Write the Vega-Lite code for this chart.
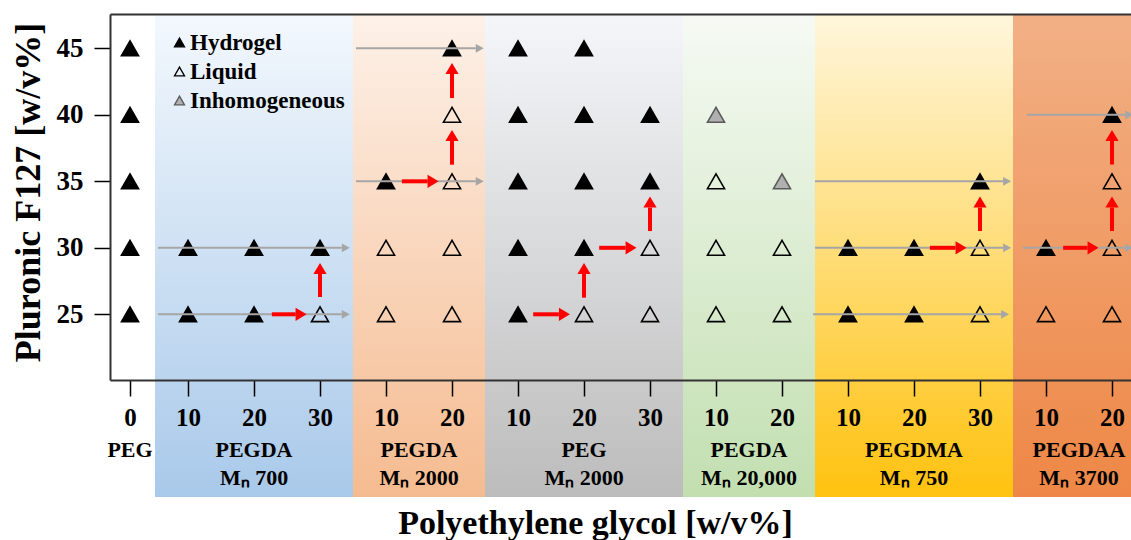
{
  "$schema": "https://vega.github.io/schema/vega-lite/v6.json",
  "width": 1021,
  "height": 366,
  "autosize": {"type": "none"},
  "padding": {"left": 110, "top": 14, "right": 0, "bottom": 160},
  "background": "white",
  "config": {"view": {"stroke": null}, "font": "Liberation Serif"},
  "datasets": {
    "bands": [
      {"band": "PEGDA700", "start": 0.5, "end": 3.5},
      {"band": "PEGDA2000", "start": 3.5, "end": 5.5},
      {"band": "PEG2000", "start": 5.5, "end": 8.5},
      {"band": "PEGDA20000", "start": 8.5, "end": 10.5},
      {"band": "PEGDMA750", "start": 10.5, "end": 13.5},
      {"band": "PEGDAA3700", "start": 13.5, "end": 15.6}
    ],
    "points": [
      {"pos": 0.121, "conc": 25, "state": "Hydrogel"},
      {"pos": 0.121, "conc": 30, "state": "Hydrogel"},
      {"pos": 0.121, "conc": 35, "state": "Hydrogel"},
      {"pos": 0.121, "conc": 40, "state": "Hydrogel"},
      {"pos": 0.121, "conc": 45, "state": "Hydrogel"},
      {"pos": 1, "conc": 25, "state": "Hydrogel"},
      {"pos": 1, "conc": 30, "state": "Hydrogel"},
      {"pos": 2, "conc": 25, "state": "Hydrogel"},
      {"pos": 2, "conc": 30, "state": "Hydrogel"},
      {"pos": 3, "conc": 25, "state": "Liquid"},
      {"pos": 3, "conc": 30, "state": "Hydrogel"},
      {"pos": 4, "conc": 25, "state": "Liquid"},
      {"pos": 4, "conc": 30, "state": "Liquid"},
      {"pos": 4, "conc": 35, "state": "Hydrogel"},
      {"pos": 5, "conc": 25, "state": "Liquid"},
      {"pos": 5, "conc": 30, "state": "Liquid"},
      {"pos": 5, "conc": 35, "state": "Liquid"},
      {"pos": 5, "conc": 40, "state": "Liquid"},
      {"pos": 5, "conc": 45, "state": "Hydrogel"},
      {"pos": 6, "conc": 25, "state": "Hydrogel"},
      {"pos": 6, "conc": 30, "state": "Hydrogel"},
      {"pos": 6, "conc": 35, "state": "Hydrogel"},
      {"pos": 6, "conc": 40, "state": "Hydrogel"},
      {"pos": 6, "conc": 45, "state": "Hydrogel"},
      {"pos": 7, "conc": 25, "state": "Liquid"},
      {"pos": 7, "conc": 30, "state": "Hydrogel"},
      {"pos": 7, "conc": 35, "state": "Hydrogel"},
      {"pos": 7, "conc": 40, "state": "Hydrogel"},
      {"pos": 7, "conc": 45, "state": "Hydrogel"},
      {"pos": 8, "conc": 25, "state": "Liquid"},
      {"pos": 8, "conc": 30, "state": "Liquid"},
      {"pos": 8, "conc": 35, "state": "Hydrogel"},
      {"pos": 8, "conc": 40, "state": "Hydrogel"},
      {"pos": 9, "conc": 25, "state": "Liquid"},
      {"pos": 9, "conc": 30, "state": "Liquid"},
      {"pos": 9, "conc": 35, "state": "Liquid"},
      {"pos": 9, "conc": 40, "state": "Inhomogeneous"},
      {"pos": 10, "conc": 25, "state": "Liquid"},
      {"pos": 10, "conc": 30, "state": "Liquid"},
      {"pos": 10, "conc": 35, "state": "Inhomogeneous"},
      {"pos": 11, "conc": 25, "state": "Hydrogel"},
      {"pos": 11, "conc": 30, "state": "Hydrogel"},
      {"pos": 12, "conc": 25, "state": "Hydrogel"},
      {"pos": 12, "conc": 30, "state": "Hydrogel"},
      {"pos": 13, "conc": 25, "state": "Liquid"},
      {"pos": 13, "conc": 30, "state": "Liquid"},
      {"pos": 13, "conc": 35, "state": "Hydrogel"},
      {"pos": 14, "conc": 25, "state": "Liquid"},
      {"pos": 14, "conc": 30, "state": "Hydrogel"},
      {"pos": 15, "conc": 25, "state": "Liquid"},
      {"pos": 15, "conc": 30, "state": "Liquid"},
      {"pos": 15, "conc": 35, "state": "Liquid"},
      {"pos": 15, "conc": 40, "state": "Hydrogel"}
    ],
    "gray": [
      {"x": 0.545, "xe": 3.33, "y": 30},
      {"x": 0.545, "xe": 3.33, "y": 25},
      {"x": 3.545, "xe": 5.36, "y": 45},
      {"x": 3.545, "xe": 5.36, "y": 35},
      {"x": 10.5, "xe": 13.35, "y": 35},
      {"x": 10.5, "xe": 13.35, "y": 30},
      {"x": 10.47, "xe": 13.32, "y": 25},
      {"x": 13.71, "xe": 15.2, "y": 40},
      {"x": 13.65, "xe": 15.2, "y": 30}
    ],
    "red": [
      {"x": 2.27, "xe": 2.63, "y": 25, "ye": 25, "dir": "right"},
      {"x": 3, "xe": 3, "y": 26.3, "ye": 28.03, "dir": "up"},
      {"x": 4.24, "xe": 4.63, "y": 35, "ye": 35, "dir": "right"},
      {"x": 5, "xe": 5, "y": 36.25, "ye": 38.03, "dir": "up"},
      {"x": 5, "xe": 5, "y": 41.26, "ye": 43.07, "dir": "up"},
      {"x": 6.23, "xe": 6.62, "y": 25, "ye": 25, "dir": "right"},
      {"x": 7, "xe": 7, "y": 26.25, "ye": 28.03, "dir": "up"},
      {"x": 7.23, "xe": 7.63, "y": 30, "ye": 30, "dir": "right"},
      {"x": 8, "xe": 8, "y": 31.26, "ye": 33.03, "dir": "up"},
      {"x": 12.24, "xe": 12.63, "y": 30, "ye": 30, "dir": "right"},
      {"x": 13, "xe": 13, "y": 31.26, "ye": 33.03, "dir": "up"},
      {"x": 14.26, "xe": 14.63, "y": 30, "ye": 30, "dir": "right"},
      {"x": 15, "xe": 15, "y": 31.26, "ye": 33.03, "dir": "up"},
      {"x": 15, "xe": 15, "y": 36.26, "ye": 38.03, "dir": "up"}
    ],
    "groups": [
      {"pos": 0.121, "name": "PEG", "mn": ""},
      {"pos": 2, "name": "PEGDA", "mn": "Mₙ 700"},
      {"pos": 4.5, "name": "PEGDA", "mn": "Mₙ 2000"},
      {"pos": 7, "name": "PEG", "mn": "Mₙ 2000"},
      {"pos": 9.5, "name": "PEGDA", "mn": "Mₙ 20,000"},
      {"pos": 12, "name": "PEGDMA", "mn": "Mₙ 750"},
      {"pos": 14.5, "name": "PEGDAA", "mn": "Mₙ 3700"}
    ]
  },
  "resolve": {"axis": {"x": "independent", "y": "independent"}},
  "layer": [
    {
      "data": {"name": "bands"},
      "transform": [{"filter": "datum.band === 'PEGDA700'"}],
      "mark": {"type": "rect", "fill": {"gradient": "linear", "x1": 0, "y1": 0, "x2": 0, "y2": 1, "stops": [{"offset": 0, "color": "#f3f8fd"}, {"offset": 1, "color": "#a9c9ea"}]}},
      "encoding": {
        "x": {"field": "start", "type": "quantitative", "scale": {"domain": [-0.182, 15.288], "nice": false, "zero": false}, "axis": {"orient": "top", "labels": false, "ticks": false, "domain": true, "domainColor": "#333333", "domainWidth": 2, "title": null, "grid": false, "zindex": 1}},
        "x2": {"field": "end"},
        "y": {"datum": 47.58, "type": "quantitative", "scale": {"domain": [20.06, 47.58], "nice": false, "zero": false},
          "axis": {"orient": "left", "values": [25, 30, 35, 40, 45], "zindex": 1, "tickSize": 16, "tickWidth": 1.5, "tickColor": "#000000", "domainColor": "#333333", "domainWidth": 2,
            "labelFont": "Liberation Serif", "labelFontSize": 27, "labelFontWeight": "bold", "labelColor": "#000000", "labelPadding": 11, "grid": false,
            "title": "Pluronic F127 [w/v%]", "titleFont": "Liberation Serif", "titleFontSize": 36, "titleFontWeight": "bold", "titleColor": "#000000",
            "titleX": -82, "titleY": 178, "titleAngle": -90, "titleBaseline": "middle", "titleAlign": "center", "titleAnchor": null}},
        "y2": {"datum": 11.26}
      }
    },
    {
      "data": {"name": "bands"},
      "transform": [{"filter": "datum.band === 'PEGDA2000'"}],
      "mark": {"type": "rect", "fill": {"gradient": "linear", "x1": 0, "y1": 0, "x2": 0, "y2": 1, "stops": [{"offset": 0, "color": "#fdf1e8"}, {"offset": 1, "color": "#f5bb90"}]}},
      "encoding": {
        "x": {"field": "start", "type": "quantitative", "axis": null},
        "x2": {"field": "end"},
        "y": {"datum": 47.58, "type": "quantitative", "axis": null},
        "y2": {"datum": 11.26}
      }
    },
    {
      "data": {"name": "bands"},
      "transform": [{"filter": "datum.band === 'PEG2000'"}],
      "mark": {"type": "rect", "fill": {"gradient": "linear", "x1": 0, "y1": 0, "x2": 0, "y2": 1, "stops": [{"offset": 0, "color": "#f5f6f9"}, {"offset": 1, "color": "#bcbcbc"}]}},
      "encoding": {
        "x": {"field": "start", "type": "quantitative", "axis": null},
        "x2": {"field": "end"},
        "y": {"datum": 47.58, "type": "quantitative", "axis": null},
        "y2": {"datum": 11.26}
      }
    },
    {
      "data": {"name": "bands"},
      "transform": [{"filter": "datum.band === 'PEGDA20000'"}],
      "mark": {"type": "rect", "fill": {"gradient": "linear", "x1": 0, "y1": 0, "x2": 0, "y2": 1, "stops": [{"offset": 0, "color": "#f6faf4"}, {"offset": 1, "color": "#c2dfb0"}]}},
      "encoding": {
        "x": {"field": "start", "type": "quantitative", "axis": null},
        "x2": {"field": "end"},
        "y": {"datum": 47.58, "type": "quantitative", "axis": null},
        "y2": {"datum": 11.26}
      }
    },
    {
      "data": {"name": "bands"},
      "transform": [{"filter": "datum.band === 'PEGDMA750'"}],
      "mark": {"type": "rect", "fill": {"gradient": "linear", "x1": 0, "y1": 0, "x2": 0, "y2": 1, "stops": [{"offset": 0, "color": "#fff6dc"}, {"offset": 1, "color": "#ffc20f"}]}},
      "encoding": {
        "x": {"field": "start", "type": "quantitative", "axis": null},
        "x2": {"field": "end"},
        "y": {"datum": 47.58, "type": "quantitative", "axis": null},
        "y2": {"datum": 11.26}
      }
    },
    {
      "data": {"name": "bands"},
      "transform": [{"filter": "datum.band === 'PEGDAA3700'"}],
      "mark": {"type": "rect", "fill": {"gradient": "linear", "x1": 0, "y1": 0, "x2": 0, "y2": 1, "stops": [{"offset": 0, "color": "#f2b085"}, {"offset": 1, "color": "#ee8746"}]}},
      "encoding": {
        "x": {"field": "start", "type": "quantitative", "axis": null},
        "x2": {"field": "end"},
        "y": {"datum": 47.58, "type": "quantitative", "axis": null},
        "y2": {"datum": 11.26}
      }
    },
    {
      "data": {"name": "points"},
      "mark": {"type": "point", "shape": "triangle-up", "size": 290, "filled": true, "strokeWidth": 1.6, "opacity": 1},
      "encoding": {
        "x": {"field": "pos", "type": "quantitative",
          "axis": {"orient": "bottom", "zindex": 1, "values": [0.121, 1, 2, 3, 4, 5, 6, 7, 8, 9, 10, 11, 12, 13, 14, 15],
            "labelExpr": "['0','10','20','30','10','20','10','20','30','10','20','10','20','30','10','20'][round(datum.value)]",
            "tickSize": 16, "tickWidth": 1.5, "tickColor": "#000000", "domainColor": "#333333", "domainWidth": 2,
            "labelFont": "Liberation Serif", "labelFontSize": 25, "labelFontWeight": "bold", "labelColor": "#000000",
            "labelPadding": 21, "labelBaseline": "middle", "labelFlush": false, "labelOverlap": false, "grid": false,
            "title": "Polyethylene glycol [w/v%]", "titleFont": "Liberation Serif", "titleFontSize": 34, "titleFontWeight": "bold", "titleColor": "#000000",
            "titleX": 485, "titleY": 153, "titleBaseline": "alphabetic", "titleAlign": "center", "titleAnchor": null}},
        "y": {"field": "conc", "type": "quantitative", "axis": null},
        "fill": {"field": "state", "type": "nominal",
          "scale": {"domain": ["Hydrogel", "Liquid", "Inhomogeneous"], "range": ["#000000", "transparent", "#b0b0b0"]},
          "legend": {"orient": "none", "legendX": 58, "legendY": 17, "title": null, "symbolType": "triangle-up", "symbolSize": 100, "symbolStrokeWidth": 1.3,
            "labelFont": "Liberation Serif", "labelFontSize": 23, "labelFontWeight": "bold", "labelColor": "#000000", "rowPadding": 5, "labelOffset": -1, "padding": 0}},
        "stroke": {"field": "state", "type": "nominal",
          "scale": {"domain": ["Hydrogel", "Liquid", "Inhomogeneous"], "range": ["#000000", "#000000", "#5a5a5a"]},
          "legend": {"orient": "none", "legendX": 58, "legendY": 17, "title": null, "symbolType": "triangle-up", "symbolSize": 100, "symbolStrokeWidth": 1.3,
            "labelFont": "Liberation Serif", "labelFontSize": 23, "labelFontWeight": "bold", "labelColor": "#000000", "rowPadding": 5, "labelOffset": -1, "padding": 0}}
      }
    },
    {
      "data": {"name": "gray"},
      "mark": {"type": "rule", "color": "#a6a6a6", "strokeWidth": 2},
      "encoding": {
        "x": {"field": "x", "type": "quantitative", "axis": null},
        "x2": {"field": "xe"},
        "y": {"field": "y", "type": "quantitative", "axis": null}
      }
    },
    {
      "data": {"name": "gray"},
      "mark": {"type": "point", "shape": "M2,0L0,-1.1L0,1.1Z", "size": 64, "filled": true, "color": "#a6a6a6", "opacity": 1, "strokeWidth": 0},
      "encoding": {
        "x": {"field": "xe", "type": "quantitative", "axis": null},
        "y": {"field": "y", "type": "quantitative", "axis": null}
      }
    },
    {
      "data": {"name": "red"},
      "mark": {"type": "rule", "color": "#ff0000", "strokeWidth": 4},
      "encoding": {
        "x": {"field": "x", "type": "quantitative", "axis": null},
        "x2": {"field": "xe"},
        "y": {"field": "y", "type": "quantitative", "axis": null},
        "y2": {"field": "ye"}
      }
    },
    {
      "data": {"name": "red"},
      "transform": [{"filter": "datum.dir === 'right'"}],
      "mark": {"type": "point", "shape": "M2,0L0,-1.2L0,1.2Z", "size": 121, "filled": true, "color": "#ff0000", "opacity": 1, "strokeWidth": 0},
      "encoding": {
        "x": {"field": "xe", "type": "quantitative", "axis": null},
        "y": {"field": "ye", "type": "quantitative", "axis": null}
      }
    },
    {
      "data": {"name": "red"},
      "transform": [{"filter": "datum.dir === 'up'"}],
      "mark": {"type": "point", "shape": "M0,-2L-1.2,0L1.2,0Z", "size": 121, "filled": true, "color": "#ff0000", "opacity": 1, "strokeWidth": 0},
      "encoding": {
        "x": {"field": "xe", "type": "quantitative", "axis": null},
        "y": {"field": "ye", "type": "quantitative", "axis": null}
      }
    },
    {
      "data": {"name": "groups"},
      "mark": {"type": "text", "font": "Liberation Serif", "fontWeight": "bold", "fontSize": 22, "baseline": "middle", "align": "center", "color": "#000000"},
      "encoding": {
        "x": {"field": "pos", "type": "quantitative", "axis": null},
        "y": {"datum": 14.8, "type": "quantitative", "axis": null},
        "text": {"field": "name"}
      }
    },
    {
      "data": {"name": "groups"},
      "mark": {"type": "text", "font": "Liberation Serif", "fontWeight": "bold", "fontSize": 22, "baseline": "middle", "align": "center", "color": "#000000"},
      "encoding": {
        "x": {"field": "pos", "type": "quantitative", "axis": null},
        "y": {"datum": 12.69, "type": "quantitative", "axis": null},
        "text": {"field": "mn"}
      }
    }
  ]
}
